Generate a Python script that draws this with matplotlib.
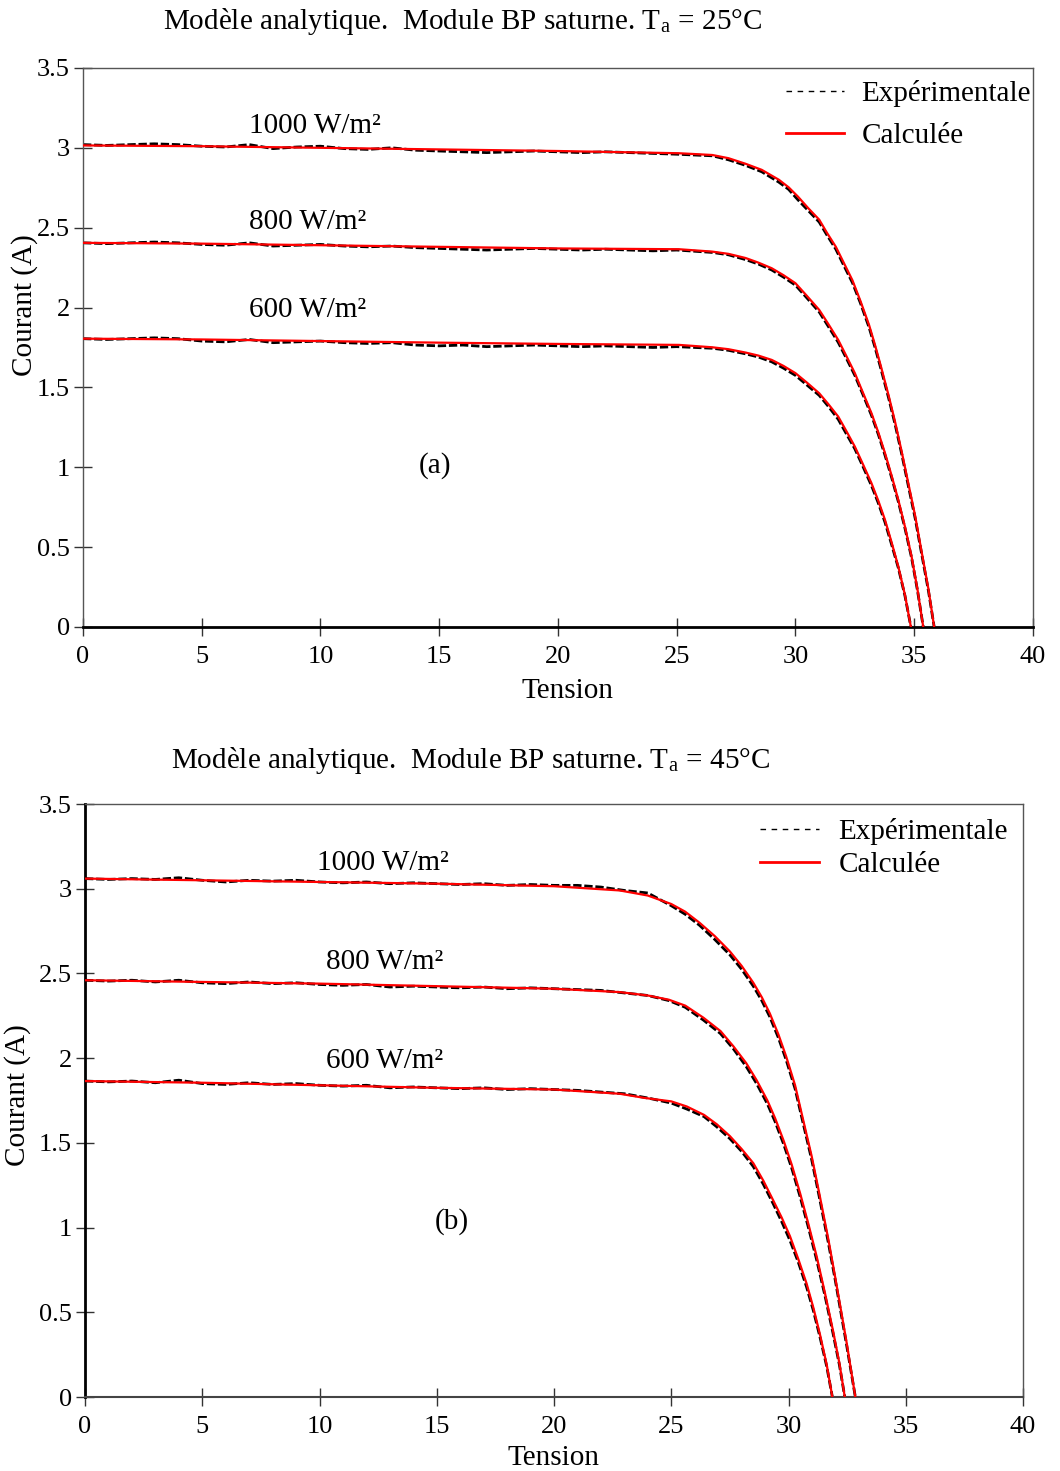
import matplotlib
matplotlib.use("Agg")
import matplotlib.pyplot as plt
from matplotlib.lines import Line2D

plt.rcParams['font.family'] = ['Liberation Serif', 'DejaVu Serif']
plt.rcParams['mathtext.fontset'] = 'stix'

# --- (a) Ta = 25°C : courbes calculées ---
va_1000 = [0, 5, 10, 15, 20, 25.1, 26.5, 27.18, 27.9, 28.58, 29.3, 29.71, 30.1, 30.55, 31.0, 31.32, 31.7,
           32.03, 32.4, 32.73, 33.1, 33.35, 33.6, 33.92, 34.2, 34.48, 34.75, 35.04, 35.3, 35.6, 35.84]
ia_1000 = [3.015, 3.01, 3.0, 2.99, 2.98, 2.966, 2.955, 2.935, 2.90, 2.862, 2.80, 2.753, 2.695, 2.62, 2.55, 2.469, 2.38,
           2.281, 2.17, 2.043, 1.89, 1.765, 1.63, 1.45, 1.28, 1.092, 0.90, 0.695, 0.48, 0.236, 0.0]
va_800 = [0, 5, 10, 15, 20, 25.1, 26.5, 27.18, 27.9, 28.44, 29.0, 29.5, 30.0, 30.48, 31.0, 31.39, 31.8, 32.14,
          32.5, 32.84, 33.2, 33.49, 33.77, 34.05, 34.33, 34.61, 34.89, 35.14, 35.38]
ia_800 = [2.405, 2.40, 2.39, 2.38, 2.37, 2.365, 2.35, 2.336, 2.31, 2.281, 2.246, 2.202, 2.152, 2.073, 1.985, 1.895,
          1.797, 1.697, 1.589, 1.467, 1.338, 1.217, 1.088, 0.946, 0.795, 0.628, 0.44, 0.232, 0.0]
va_600 = [0, 5, 10, 15, 20, 25.1, 26.5, 27.18, 27.9, 28.44, 29.0, 29.5, 30.0, 30.48, 31.0, 31.39, 31.8, 32.14,
          32.5, 32.84, 33.2, 33.49, 33.77, 34.05, 34.33, 34.61, 34.86]
ia_600 = [1.805, 1.80, 1.79, 1.78, 1.772, 1.766, 1.751, 1.739, 1.718, 1.699, 1.672, 1.634, 1.589, 1.53, 1.463, 1.394,
          1.317, 1.227, 1.129, 1.019, 0.90, 0.789, 0.67, 0.528, 0.378, 0.20, 0.0]

# --- (a) mesures expérimentales (palier puis coude) ---
ve_a_flat = [0, 1, 2, 3, 4, 5, 6, 7, 8, 9, 10, 11, 12, 13, 14, 15, 16, 17, 18, 19, 20, 21, 22, 23, 24, 25]
ea_1000_flat = [3.02, 3.015, 3.02, 3.025, 3.02, 3.01, 3.005, 3.02, 2.995, 3.005, 3.01, 2.995, 2.99, 3.0, 2.985,
                2.98, 2.975, 2.97, 2.975, 2.98, 2.975, 2.97, 2.975, 2.97, 2.965, 2.96]
ea_1000_knee = [2.95, 2.925, 2.89, 2.85, 2.785, 2.74, 2.675, 2.605, 2.535, 2.455, 2.365, 2.265, 2.155, 2.03, 1.875,
                1.75, 1.615, 1.435, 1.265, 1.078, 0.885, 0.68, 0.468, 0.225, 0.0]
ea_800_flat = [2.405, 2.40, 2.405, 2.41, 2.405, 2.395, 2.39, 2.405, 2.385, 2.39, 2.395, 2.385, 2.38, 2.385, 2.375,
               2.37, 2.365, 2.36, 2.365, 2.37, 2.365, 2.36, 2.365, 2.36, 2.355, 2.36]
ea_800_knee = [2.345, 2.33, 2.30, 2.272, 2.235, 2.19, 2.14, 2.06, 1.972, 1.88, 1.782, 1.683, 1.575, 1.455, 1.325,
               1.205, 1.075, 0.935, 0.785, 0.618, 0.432, 0.226, 0.0]
ea_600_flat = [1.805, 1.80, 1.805, 1.81, 1.805, 1.79, 1.785, 1.80, 1.78, 1.785, 1.79, 1.78, 1.775, 1.78, 1.765,
               1.76, 1.765, 1.755, 1.76, 1.765, 1.76, 1.755, 1.76, 1.755, 1.75, 1.755]
ea_600_knee = [1.745, 1.732, 1.71, 1.69, 1.66, 1.62, 1.575, 1.515, 1.45, 1.38, 1.30, 1.21, 1.115, 1.005, 0.885,
               0.775, 0.655, 0.515, 0.37, 0.195, 0.0]

# --- (b) Ta = 45°C : courbes calculées ---
vb_1000 = [0, 5, 10, 15, 20, 22.8, 24, 25, 25.59, 26.2, 26.86, 27.5, 28.0, 28.5, 28.86, 29.2, 29.57, 29.9,
           30.28, 30.6, 30.99, 31.3, 31.7, 32.0, 32.48, 32.85]
ib_1000 = [3.06, 3.05, 3.04, 3.03, 3.015, 2.99, 2.96, 2.91, 2.865, 2.80, 2.72, 2.63, 2.545, 2.445, 2.36, 2.265, 2.14,
           2.01, 1.84, 1.65, 1.42, 1.21, 0.93, 0.70, 0.32, 0.0]
vb_800 = [0, 5, 10, 15, 20, 22.8, 24, 24.9, 25.6, 26.37, 27.1, 27.65, 28.2, 28.64, 29.1, 29.43, 29.8, 30.14,
          30.5, 30.85, 31.2, 31.56, 31.9, 32.17, 32.4]
ib_800 = [2.46, 2.45, 2.44, 2.425, 2.41, 2.39, 2.37, 2.345, 2.31, 2.239, 2.16, 2.07, 1.97, 1.87, 1.75, 1.645, 1.51,
          1.37, 1.20, 1.02, 0.83, 0.61, 0.39, 0.20, 0.0]
vb_600 = [0, 5, 10, 15, 20, 22.8, 23.88, 25, 25.66, 26.4, 26.94, 27.5, 28.0, 28.5, 28.93, 29.35, 29.71, 30.06,
          30.42, 30.77, 31.06, 31.34, 31.63, 31.87]
ib_600 = [1.865, 1.855, 1.84, 1.825, 1.815, 1.79, 1.765, 1.745, 1.715, 1.665, 1.61, 1.54, 1.464, 1.38, 1.276, 1.16,
          1.059, 0.95, 0.813, 0.67, 0.527, 0.37, 0.19, 0.0]

# --- (b) mesures expérimentales ---
ve_b_flat = [0, 1, 2, 3, 4, 5, 6, 7, 8, 9, 10, 11, 12, 13, 14, 15, 16, 17, 18, 19, 20, 21, 22, 23, 24]
eb_1000_flat = [3.06, 3.055, 3.06, 3.055, 3.065, 3.05, 3.04, 3.05, 3.045, 3.05, 3.04, 3.035, 3.04, 3.03, 3.035,
                3.03, 3.025, 3.03, 3.02, 3.025, 3.02, 3.02, 3.01, 2.99, 2.975]
eb_1000_knee = [2.90, 2.85, 2.785, 2.70, 2.61, 2.525, 2.425, 2.34, 2.245, 2.12, 1.99, 1.82, 1.63, 1.40, 1.19, 0.91,
                0.685, 0.305, 0.0]
eb_800_flat = [2.46, 2.455, 2.46, 2.45, 2.46, 2.445, 2.44, 2.45, 2.44, 2.445, 2.435, 2.43, 2.435, 2.42, 2.425,
               2.42, 2.415, 2.42, 2.41, 2.415, 2.41, 2.405, 2.40, 2.385, 2.37]
eb_800_knee = [2.34, 2.30, 2.225, 2.145, 2.055, 1.95, 1.85, 1.73, 1.625, 1.49, 1.35, 1.18, 1.0, 0.81, 0.595, 0.375,
               0.19, 0.0]
eb_600_flat = [1.865, 1.86, 1.865, 1.855, 1.87, 1.85, 1.845, 1.855, 1.845, 1.85, 1.84, 1.835, 1.84, 1.825, 1.83,
               1.825, 1.82, 1.825, 1.815, 1.82, 1.815, 1.81, 1.80, 1.79, 1.765]
eb_600_knee = [1.735, 1.70, 1.655, 1.595, 1.525, 1.45, 1.36, 1.255, 1.14, 1.035, 0.925, 0.795, 0.65, 0.51, 0.355,
               0.18, 0.0]

irradiances = ['1000 W/m²', '800 W/m²', '600 W/m²']
x_ticks = [0, 5, 10, 15, 20, 25, 30, 35, 40]
y_ticks = [0, 0.5, 1, 1.5, 2, 2.5, 3, 3.5]
y_tick_labels = ['0', '0.5', '1', '1.5', '2', '2.5', '3', '3.5']
titres = [r'Modèle analytique.  Module BP saturne. T$_\mathregular{a}$ = 25°C',
          r'Modèle analytique.  Module BP saturne. T$_\mathregular{a}$ = 45°C']

FS = 21


def tracer(ax, calc, exp):
    # mesures en noir (pointillés serrés) sous les courbes calculées en rouge
    for v, i in exp:
        ax.plot(v, i, color='black', lw=2.0, linestyle=(0, (3, 1)), zorder=2)
    for v, i in calc:
        ax.plot(v, i, color='red', lw=1.6, zorder=3)
    ax.set_xlim(0, 40)
    ax.set_ylim(0, 3.5)
    ax.set_xticks(x_ticks)
    ax.set_xticklabels([str(t) for t in x_ticks])
    ax.set_yticks(y_ticks)
    ax.set_yticklabels(y_tick_labels)
    ax.tick_params(direction='inout', length=13, width=1, color='#333333', labelsize=19)
    ax.tick_params(axis='x', pad=7)
    ax.tick_params(axis='y', pad=3)
    for s in ['top', 'right']:
        ax.spines[s].set_color('#555555')
        ax.spines[s].set_linewidth(1)


def main():
    fig = plt.figure(figsize=(10.6, 14.71), dpi=100)

    # ---------- (a) ----------
    ax1 = fig.add_axes([0.0783, 0.5738, 0.8962, 0.38])
    tracer(ax1,
           [(va_1000, ia_1000), (va_800, ia_800), (va_600, ia_600)],
           [(ve_a_flat + va_1000[6:], ea_1000_flat + ea_1000_knee),
            (ve_a_flat + va_800[6:], ea_800_flat + ea_800_knee),
            (ve_a_flat + va_600[6:], ea_600_flat + ea_600_knee)])
    ax1.spines['left'].set_color('#555555')
    ax1.spines['left'].set_linewidth(1)
    ax1.spines['bottom'].set_color('black')
    ax1.spines['bottom'].set_linewidth(2)
    ax1.text(7.0, 3.137, irradiances[0], fontsize=FS, va='center', ha='left')
    ax1.text(7.0, 2.536, irradiances[1], fontsize=FS, va='center', ha='left')
    ax1.text(7.0, 1.985, irradiances[2], fontsize=FS, va='center', ha='left')
    ax1.text(14.83, 1.008, '(a)', fontsize=FS, va='center', ha='center')

    # ---------- (b) ----------
    ax2 = fig.add_axes([0.0802, 0.0503, 0.8849, 0.4031])
    tracer(ax2,
           [(vb_1000, ib_1000), (vb_800, ib_800), (vb_600, ib_600)],
           [(ve_b_flat + vb_1000[7:], eb_1000_flat + eb_1000_knee),
            (ve_b_flat + vb_800[7:], eb_800_flat + eb_800_knee),
            (ve_b_flat + vb_600[7:], eb_600_flat + eb_600_knee)])
    ax2.spines['left'].set_color('black')
    ax2.spines['left'].set_linewidth(2)
    ax2.spines['bottom'].set_color('#444444')
    ax2.spines['bottom'].set_linewidth(1.5)
    ax2.text(9.9, 3.154, irradiances[0], fontsize=FS, va='center', ha='left')
    ax2.text(10.28, 2.568, irradiances[1], fontsize=FS, va='center', ha='left')
    ax2.text(10.28, 1.982, irradiances[2], fontsize=FS, va='center', ha='left')
    ax2.text(15.65, 1.036, '(b)', fontsize=FS, va='center', ha='center')

    # légendes
    poignees = [Line2D([], [], color='black', lw=1, linestyle=(0, (4, 4))),
                Line2D([], [], color='red', lw=2)]
    noms = ['Expérimentale', 'Calculée']
    ax1.legend(poignees, noms, loc='upper right', bbox_to_anchor=(0.998, 0.9785), frameon=False,
               fontsize=FS, handlelength=2.0, handletextpad=0.6, labelspacing=0.545,
               borderaxespad=0, borderpad=0)
    ax2.legend(poignees, noms, loc='upper right', bbox_to_anchor=(0.984, 0.9764), frameon=False,
               fontsize=FS, handlelength=2.0, handletextpad=0.68, labelspacing=0.237,
               borderaxespad=0, borderpad=0)

    # titres et étiquettes des axes
    fig.text(0.436, 0.9857, titres[0], fontsize=FS, ha='center', va='center')
    fig.text(0.444, 0.4833, titres[1], fontsize=FS, ha='center', va='center')
    fig.text(0.535, 0.5303, 'Tension', fontsize=FS, ha='center', va='center')
    fig.text(0.5217, 0.0088, 'Tension', fontsize=FS, ha='center', va='center')
    fig.text(0.0236, 0.7927, 'Courant (A)', fontsize=FS, ha='center', va='center', rotation=90)
    fig.text(0.017, 0.2556, 'Courant (A)', fontsize=FS, ha='center', va='center', rotation=90)

    fig.savefig('out.png', dpi=100)


if __name__ == "__main__":
    main()
